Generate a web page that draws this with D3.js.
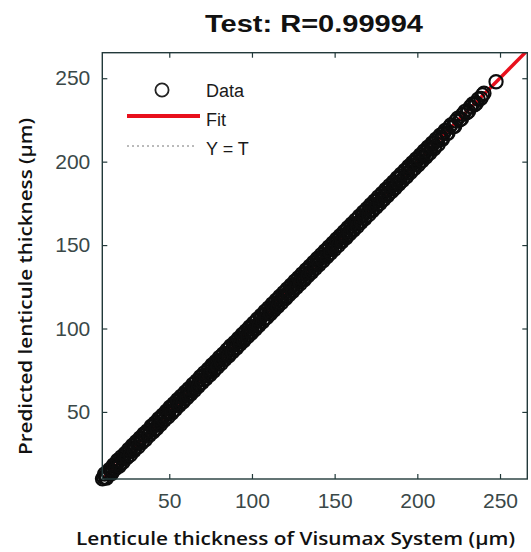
<!DOCTYPE html>
<html>
<head>
<meta charset="utf-8">
<script src="https://cdn.jsdelivr.net/npm/d3@7"></script>
<style>
    html, body { margin: 0; padding: 0; background: #fff; }
    svg { display: block; }
</style>
</head>
<body>
<div id="chart"></div>
<script>
// Target values (Visumax) and network outputs, test set
const targets = [
    10.2, 11.5, 12.8, 13.4, 14.9, 15.6, 16.8, 18.1, 19.3, 20.2, 21.7, 22.5, 23.9, 24.6, 25.8,
    27.1, 28.4, 29.0, 30.6, 31.8, 32.7, 33.9, 35.2, 36.1, 37.5, 38.4, 39.8, 40.9, 41.6, 43.0,
    44.2, 45.1, 46.5, 47.3, 48.8, 49.6, 50.9, 52.2, 53.0, 54.4, 55.7, 56.5, 57.9, 59.1, 60.0,
    61.4, 62.3, 63.8, 64.7, 65.9, 67.2, 68.0, 69.5, 70.6, 71.8, 72.9, 74.1, 75.3, 76.2, 77.6,
    78.8, 79.5, 80.9, 82.1, 83.0, 84.4, 85.6, 86.3, 87.8, 88.9, 90.1, 91.2, 92.4, 93.5, 94.7,
    95.8, 96.6, 98.0, 99.3, 100.2, 101.5, 102.7, 103.4, 104.9, 106.0, 107.2, 108.3, 109.1, 110.6, 111.8,
    112.5, 113.9, 115.1, 116.0, 117.4, 118.5, 119.7, 120.8, 121.6, 123.0, 124.2, 125.1, 126.5, 127.7, 128.4,
    129.8, 131.0, 132.2, 133.1, 134.5, 135.6, 136.4, 137.9, 139.0, 140.2, 141.3, 142.5, 143.4, 144.8, 146.0,
    146.9, 148.3, 149.5, 150.4, 151.8, 152.9, 153.7, 155.2, 156.3, 157.5, 158.4, 159.8, 161.0, 161.9, 163.3,
    164.5, 165.2, 166.7, 167.9, 168.8, 170.1, 171.3, 172.4, 173.2, 174.7, 175.8, 176.9, 178.1, 179.0, 180.4,
    181.6, 182.5, 183.8, 185.0, 185.9, 187.3, 188.4, 189.6, 190.5, 191.9, 193.0, 194.2, 195.1, 196.6, 197.8,
    198.7, 200.0, 201.3, 202.4, 203.5, 204.8, 205.9, 207.0, 208.4, 209.6, 210.7, 211.9, 213.1, 214.6, 216.0,
    217.8, 219.4, 221.5, 223.2, 225.8, 227.4, 229.9, 232.1, 234.6, 236.8, 238.5, 240.3, 247.6,
    9.6, 10.9, 12.1, 13.9, 15.2, 16.3, 17.5, 18.7, 19.8, 21.0, 22.1, 23.3, 24.2, 25.4, 26.5,
    27.7, 28.8, 30.0, 31.2, 32.3, 33.4, 34.6, 35.7, 36.8, 38.0, 39.1, 40.3, 41.3, 42.5, 43.6,
    44.8, 45.9, 47.0, 48.2, 49.3, 50.4, 51.6, 52.7, 53.8, 55.0, 56.1, 57.2, 58.4, 59.6, 60.7,
    61.8, 63.0, 64.2, 65.3, 66.5, 67.6, 68.8, 70.0, 71.1, 72.3, 73.5, 74.6, 75.8, 76.9, 78.1,
    79.2, 80.3, 81.5, 82.6, 83.7, 84.9, 86.0, 87.1, 88.3, 89.5, 90.7, 91.8, 92.9, 94.1, 95.2,
    96.3, 97.4, 98.6, 99.8, 100.9, 102.1, 103.2, 104.3, 105.5, 106.6, 107.8, 108.9, 110.0, 111.2, 112.3,
    113.4, 114.6, 115.7, 116.8, 118.0, 119.1, 120.3, 121.3, 122.4, 123.6, 124.7, 125.9, 127.0, 128.1, 129.3,
    130.4, 131.6, 132.7, 133.8, 135.0, 136.1, 137.2, 138.4, 139.6, 140.7, 141.9, 143.0, 144.1, 145.3, 146.5,
    147.6, 148.8, 149.9, 151.1, 152.3, 153.3, 154.5, 155.7, 156.9, 158.0, 159.1, 160.3, 161.5, 162.6, 163.8,
    164.9, 166.0, 167.3, 168.4, 169.5, 170.7, 171.8, 172.9, 174.1, 175.2, 176.4, 177.5, 178.6, 179.8, 180.9,
    182.1, 183.2, 184.4, 185.5, 186.6, 187.8, 188.9, 190.1, 191.2, 192.4, 193.6, 194.7, 195.8, 197.0, 198.2,
    199.3, 200.6, 201.8, 202.9, 204.1, 205.2, 206.4, 207.6, 208.9, 210.1, 211.3, 212.5, 213.8, 215.2, 216.8,
    218.5, 220.3, 222.6, 224.5, 226.7, 228.8, 231.0, 233.5, 235.7, 239.4
];
const outputs = [
    10.8, 10.6, 14.1, 13.0, 15.1, 14.1, 17.7, 17.9, 21.0, 19.1, 22.0, 21.8, 25.0, 23.0, 26.3,
    28.5, 28.1, 27.8, 31.4, 31.2, 34.1, 32.6, 35.9, 37.4, 36.3, 38.9, 41.2, 39.6, 42.3, 42.1,
    45.8, 44.2, 47.1, 46.0, 50.1, 49.2, 52.4, 50.8, 53.7, 55.9, 54.6, 57.3, 56.4, 60.6, 59.8,
    63.0, 61.1, 64.2, 63.9, 67.5, 66.0, 68.9, 71.2, 69.3, 72.1, 71.5, 75.7, 74.8, 77.4, 76.1,
    80.2, 78.7, 81.3, 83.8, 81.6, 85.0, 84.3, 88.0, 87.2, 90.1, 88.6, 92.7, 91.9, 94.1, 93.2,
    97.4, 96.1, 99.6, 98.0, 101.0, 100.4, 104.3, 102.1, 105.5, 107.7, 105.9, 108.8, 110.6, 109.2, 112.4,
    111.7, 115.3, 114.0, 117.6, 116.9, 119.2, 118.1, 122.3, 121.0, 124.6, 123.1, 125.9, 125.0, 129.2, 128.0,
    131.1, 129.7, 132.8, 134.9, 133.2, 136.3, 135.0, 139.5, 138.6, 141.7, 140.1, 143.0, 142.6, 146.4, 144.7,
    147.8, 147.5, 151.0, 149.2, 152.5, 154.6, 152.4, 155.9, 155.1, 159.0, 157.8, 161.2, 159.6, 162.7, 162.5,
    166.1, 164.0, 167.4, 166.3, 170.5, 169.7, 172.8, 171.0, 174.0, 176.2, 174.6, 177.5, 176.7, 180.8, 179.9,
    183.0, 181.2, 184.4, 183.7, 187.6, 186.8, 189.9, 188.1, 191.3, 190.6, 194.7, 193.6, 196.4, 195.2, 199.3,
    198.2, 201.1, 200.0, 204.0, 202.9, 205.6, 204.4, 208.7, 207.9, 211.0, 209.3, 212.6, 214.5, 213.8, 217.2,
    216.9, 220.6, 220.8, 224.4, 225.1, 228.3, 229.2, 233.0, 234.1, 237.5, 237.9, 241.0, 247.9,
    9.9, 12.8, 10.4, 15.6, 13.1, 18.2, 16.0, 20.9, 17.6, 23.1, 20.0, 25.2, 22.5, 27.6, 24.3,
    29.9, 26.9, 32.2, 29.0, 34.5, 31.5, 36.8, 33.4, 38.7, 35.9, 41.5, 38.0, 43.4, 40.2, 45.9,
    42.5, 48.0, 44.9, 50.4, 47.0, 52.8, 49.3, 54.9, 51.6, 57.3, 53.9, 59.4, 56.0, 61.9, 58.4,
    64.0, 60.7, 66.5, 63.0, 68.6, 65.3, 71.1, 67.7, 73.4, 70.0, 75.6, 72.3, 78.2, 74.5, 80.3,
    76.8, 82.7, 79.1, 84.8, 81.5, 87.2, 83.6, 89.5, 86.0, 91.7, 88.3, 94.1, 90.6, 96.4, 92.8,
    98.6, 95.1, 101.0, 97.4, 103.2, 99.7, 105.6, 101.9, 107.8, 104.2, 110.2, 106.5, 112.4, 108.8, 114.7,
    111.0, 117.0, 113.3, 119.2, 115.6, 121.5, 117.9, 123.7, 120.1, 126.0, 122.3, 128.4, 124.6, 130.5, 126.9,
    132.8, 129.1, 135.1, 131.5, 137.4, 133.7, 139.6, 136.0, 142.0, 138.3, 144.3, 140.6, 146.5, 142.9, 148.9,
    145.2, 151.2, 147.5, 153.5, 149.8, 155.7, 152.1, 158.1, 154.4, 160.4, 156.7, 162.7, 159.0, 165.0, 161.3,
    167.3, 163.6, 169.7, 165.9, 171.9, 168.2, 174.2, 170.5, 176.5, 172.8, 178.8, 175.0, 181.0, 177.4, 183.3,
    179.7, 185.6, 182.0, 187.9, 184.2, 190.2, 186.5, 192.5, 188.8, 194.8, 191.1, 197.1, 193.4, 199.4, 195.8,
    201.7, 198.1, 204.1, 200.5, 206.4, 202.8, 208.7, 205.2, 211.1, 207.7, 213.5, 210.2, 215.9, 213.3, 218.7,
    216.9, 222.0, 221.2, 226.0, 225.6, 230.1, 230.2, 234.6, 235.0, 240.0
];
const tickValues = [50, 100, 150, 200, 250];
const titleText = 'Test: R=0.99994';
const legendLabels = ['Data', 'Fit', 'Y = T'];

const WIDTH = 531;
const HEIGHT = 552;
const AXIS_COLOR = '#22393a';
const TICK_TEXT = '#3a4848';
const FIT_RED = '#e8101c';

const plot = { left: 102.3, right: 527.3, top: 52.7, bottom: 479 };

const svg = d3.select('#chart').append('svg')
    .attr('width', WIDTH)
    .attr('height', HEIGHT);

const x = d3.scaleLinear().domain([9.5, 266.5]).range([plot.left, plot.right]);
const y = d3.scaleLinear().domain([9.8, 265.3]).range([plot.bottom, plot.top]);

const points = targets.map((t, i) => ({ t: t, o: outputs[i] }));

// lines are clipped to the axes box, markers are not
svg.append('clipPath').attr('id', 'clip')
    .append('rect')
    .attr('x', plot.left).attr('y', plot.top)
    .attr('width', plot.right - plot.left)
    .attr('height', plot.bottom - plot.top);

const area = svg.append('g').attr('clip-path', 'url(#clip)');

// Y = T reference line (mostly hidden under the data)
area.append('line')
    .attr('x1', x(0)).attr('y1', y(0))
    .attr('x2', x(300)).attr('y2', y(300))
    .attr('stroke', '#777').attr('stroke-width', 1)
    .attr('stroke-dasharray', '2,3');

// Fit line: least squares of outputs on targets
const fit = (function () {
    const mx = d3.mean(targets), my = d3.mean(outputs);
    let sxy = 0, sxx = 0;
    targets.forEach((t, i) => { sxy += (t - mx) * (outputs[i] - my); sxx += (t - mx) * (t - mx); });
    const a = sxy / sxx;
    return { a: a, b: my - a * mx };
})();

area.append('line')
    .attr('x1', x(0)).attr('y1', y(fit.b))
    .attr('x2', x(300)).attr('y2', y(fit.a * 300 + fit.b))
    .attr('stroke', FIT_RED).attr('stroke-width', 3.5);

// data circles
svg.append('g')
    .selectAll('circle')
    .data(points)
    .enter()
    .append('circle')
    .attr('cx', d => x(d.t))
    .attr('cy', d => y(d.o))
    .attr('r', 6.6)
    .attr('fill', 'none')
    .attr('stroke', '#0d0d0d')
    .attr('stroke-width', 2.1);

// axes, ticks pointing inwards on all four sides
const tickLen = 5;
svg.append('g')
    .attr('transform', `translate(0,${plot.bottom})`)
    .call(d3.axisBottom(x).tickValues(tickValues).tickSizeInner(-tickLen).tickSizeOuter(0).tickPadding(14))
    .call(g => g.select('.domain').remove());
svg.append('g')
    .attr('transform', `translate(0,${plot.top})`)
    .call(d3.axisTop(x).tickValues(tickValues).tickSizeInner(-tickLen).tickSizeOuter(0).tickFormat(''))
    .call(g => g.select('.domain').remove());
svg.append('g')
    .attr('transform', `translate(${plot.left},0)`)
    .call(d3.axisLeft(y).tickValues(tickValues).tickSizeInner(-tickLen).tickSizeOuter(0).tickPadding(12))
    .call(g => g.select('.domain').remove());
svg.append('g')
    .attr('transform', `translate(${plot.right},0)`)
    .call(d3.axisRight(y).tickValues(tickValues).tickSizeInner(-tickLen).tickSizeOuter(0).tickFormat(''))
    .call(g => g.select('.domain').remove());

svg.selectAll('.tick line').attr('stroke', AXIS_COLOR).attr('stroke-width', 1.2);
svg.selectAll('.tick text')
    .attr('fill', TICK_TEXT)
    .style('font-family', '"Liberation Sans", Arial, sans-serif')
    .style('font-size', '21px');

svg.append('rect')
    .attr('x', plot.left).attr('y', plot.top)
    .attr('width', plot.right - plot.left)
    .attr('height', plot.bottom - plot.top)
    .attr('fill', 'none')
    .attr('stroke', AXIS_COLOR)
    .attr('stroke-width', 1.4);

// title
svg.append('text')
    .attr('x', 314)
    .attr('y', 32)
    .attr('text-anchor', 'middle')
    .attr('textLength', 218)
    .attr('lengthAdjust', 'spacingAndGlyphs')
    .style('font-family', '"Liberation Sans", Arial, sans-serif')
    .style('font-size', '23px')
    .style('font-weight', 'bold')
    .attr('fill', '#111')
    .text(titleText);

// axis labels
svg.append('text')
    .attr('x', 295.5)
    .attr('y', 545)
    .attr('text-anchor', 'middle')
    .attr('textLength', 439)
    .attr('lengthAdjust', 'spacingAndGlyphs')
    .style('font-family', '"Open Sans", "Noto Sans", sans-serif')
    .style('font-size', '18px')
    .style('font-weight', 600)
    .attr('fill', '#111')
    .text('Lenticule thickness of Visumax System (μm)');

svg.append('text')
    .attr('transform', 'translate(32,286.5) rotate(-90)')
    .attr('text-anchor', 'middle')
    .attr('textLength', 337)
    .attr('lengthAdjust', 'spacingAndGlyphs')
    .style('font-family', '"Open Sans", "Noto Sans", sans-serif')
    .style('font-size', '18px')
    .style('font-weight', 600)
    .attr('fill', '#111')
    .text('Predicted lenticule thickness (μm)');

// legend
const legend = svg.append('g').attr('class', 'legend');
const legendFont = g => g
    .style('font-family', '"Liberation Sans", Arial, sans-serif')
    .style('font-size', '18px')
    .attr('fill', '#1a1a1a');

legend.append('circle')
    .attr('cx', 162).attr('cy', 90).attr('r', 6.6)
    .attr('fill', 'none').attr('stroke', '#222').attr('stroke-width', 1.8);
legend.append('line')
    .attr('x1', 127).attr('x2', 200).attr('y1', 116).attr('y2', 116)
    .attr('stroke', FIT_RED).attr('stroke-width', 4);
legend.append('line')
    .attr('x1', 127).attr('x2', 197).attr('y1', 146).attr('y2', 146)
    .attr('stroke', '#777').attr('stroke-width', 1).attr('stroke-dasharray', '2,3');

legend.selectAll('.legend-label')
    .data(legendLabels)
    .enter()
    .append('text')
    .attr('class', 'legend-label')
    .attr('x', 206)
    .attr('y', (d, i) => 97 + i * 29)
    .call(legendFont)
    .text(d => d);
</script>
</body>
</html>
